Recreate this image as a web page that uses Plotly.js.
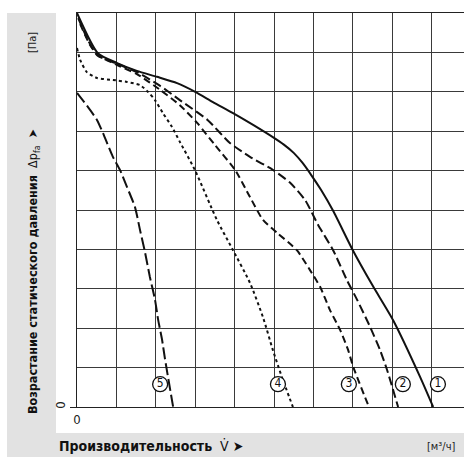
<!DOCTYPE html>
<html>
<head>
<meta charset="utf-8">
<script src="https://cdn.plot.ly/plotly-3.0.1.min.js"></script>
<style>
html,body{margin:0;padding:0;background:#fff;}
#chart{width:464px;height:457px;}
</style>
</head>
<body>
<div id="chart"></div>
<script>
// Curve 1 (solid)
const c1x = [0, 0.53, 1.02, 1.52, 2.03, 2.54, 3.0, 3.45, 3.96, 4.47, 4.97, 5.25, 5.5, 5.72, 5.95, 6.2, 6.5, 7.0, 7.51, 8.02, 8.71, 9.04];
const c1y = [10, 8.98, 8.73, 8.53, 8.38, 8.22, 8.0, 7.74, 7.46, 7.16, 6.85, 6.66, 6.45, 6.2, 5.88, 5.5, 4.98, 3.98, 3.07, 2.21, 0.76, 0];
// Curve 2 (long dash)
const c2x = [0.03, 0.28, 0.51, 1.02, 1.52, 2.11, 2.61, 3.32, 3.88, 4.39, 4.97, 5.41, 5.79, 6.12, 6.50, 6.85, 7.11, 7.44, 7.69, 7.87, 8.15];
const c2y = [9.87, 9.31, 8.93, 8.71, 8.50, 8.15, 7.79, 7.28, 6.70, 6.35, 6.02, 5.69, 5.25, 4.62, 3.98, 3.22, 2.72, 2.03, 1.45, 0.94, 0];
// Curve 3 (dash)
const c3x = [0.08, 0.33, 0.53, 1.02, 1.52, 2.11, 2.61, 3.05, 3.50, 4.01, 4.39, 4.72, 5.08, 5.58, 5.91, 6.17, 6.42, 6.68, 6.88, 7.01, 7.41];
const c3y = [9.72, 9.19, 8.93, 8.68, 8.45, 8.05, 7.66, 7.21, 6.65, 6.02, 5.33, 4.75, 4.42, 3.98, 3.48, 3.05, 2.46, 1.95, 1.45, 1.02, 0];
// Curve 4 (dotted)
const c4x = [0, 0.08, 0.25, 0.51, 0.91, 1.27, 1.60, 1.80, 1.98, 2.18, 2.41, 2.61, 2.99, 3.55, 3.96, 4.39, 4.72, 4.97, 5.20, 5.48];
const c4y = [9.11, 8.81, 8.50, 8.35, 8.30, 8.25, 8.17, 8.0, 7.79, 7.46, 7.11, 6.73, 6.02, 4.75, 3.98, 3.15, 2.28, 1.45, 0.76, 0];
// Curve 5 (long dash, steep)
const c5x = [0, 0.28, 0.51, 0.66, 0.91, 1.09, 1.27, 1.47, 1.60, 1.73, 1.85, 1.98, 2.06, 2.16, 2.23, 2.44];
const c5y = [7.97, 7.61, 7.28, 6.95, 6.35, 6.02, 5.58, 5.08, 4.49, 3.91, 3.30, 2.72, 2.21, 1.70, 1.24, 0];
// Curve labels
const labelText = ['1', '2', '3', '4', '5'];
const labelX = [9.16, 8.27, 6.90, 5.10, 2.11];
const labelY = [0.58, 0.58, 0.58, 0.58, 0.58];

const FONT = '"DejaVu Sans Condensed", "Liberation Sans Narrow", Arial, sans-serif';
const LC = '#111111';

function curve(x, y, dash) {
  return {x: x, y: y, type: 'scatter', mode: 'lines',
    line: {color: LC, width: 2, dash: dash, shape: 'spline', smoothing: 0.6},
    hoverinfo: 'skip', showlegend: false};
}

const traces = [
  curve(c1x, c1y, 'solid'),
  curve(c2x, c2y, '9px,4px'),
  curve(c3x, c3y, '7px,4px'),
  curve(c4x, c4y, '3px,3px'),
  curve(c5x, c5y, '12px,4px'),
  {x: labelX, y: labelY, text: labelText, type: 'scatter', mode: 'markers+text',
   textposition: 'middle center', cliponaxis: false,
   marker: {symbol: 'circle', size: 15, color: '#fff', line: {color: LC, width: 1.3}},
   textfont: {family: FONT, size: 12, color: '#111'}, hoverinfo: 'skip', showlegend: false}
];

const layout = {
  width: 464, height: 457,
  margin: {l: 77, r: 0, t: 13, b: 50, pad: 0},
  paper_bgcolor: '#ffffff', plot_bgcolor: '#ffffff',
  showlegend: false,
  font: {family: FONT, color: '#111'},
  xaxis: {range: [0, 9.822], showline: true, mirror: true, linecolor: '#222', linewidth: 1,
    tickmode: 'array', tickvals: [0], ticktext: ['0'], ticks: '',
    tickfont: {family: FONT, size: 13, color: '#222'},
    showgrid: false, zeroline: false, fixedrange: true,
    minor: {tick0: 0, dtick: 1, showgrid: true, gridcolor: '#3a3a3a', gridwidth: 1, ticks: ''}},
  yaxis: {range: [0, 10], showline: true, linecolor: '#222', linewidth: 1,
    tickmode: 'array', tickvals: [0], ticktext: ['0'], ticks: 'outside', ticklen: 6, tickcolor: '#222',
    tickangle: -90, tickfont: {family: FONT, size: 13, color: '#222'},
    showgrid: false, zeroline: false, fixedrange: true,
    minor: {tick0: 0, dtick: 1, showgrid: true, gridcolor: '#3a3a3a', gridwidth: 1, ticks: ''}},
  shapes: [
    {type: 'rect', xref: 'paper', yref: 'paper', x0: -0.1809, x1: 1.0, y0: -0.1269, y1: 1.0,
     fillcolor: '#e2e2e2', line: {width: 0}, layer: 'below'},
    {type: 'rect', xref: 'paper', yref: 'paper', x0: -0.0543, x1: 1.0, y0: -0.066, y1: 1.04,
     fillcolor: '#ffffff', line: {width: 0}, layer: 'below'}
  ],
  annotations: [
    {xref: 'paper', yref: 'paper', x: -0.1137, y: 0.345, xanchor: 'center', yanchor: 'middle',
     textangle: -90, showarrow: false,
     text: '<b>Возрастание статического давления</b>  Δp<sub>fa</sub>  <b>➤</b>',
     font: {family: FONT, size: 12.5, color: '#111'}},
    {xref: 'paper', yref: 'paper', x: -0.1137, y: 0.9264, xanchor: 'center', yanchor: 'middle',
     textangle: -90, showarrow: false, text: '[Па]',
     font: {family: FONT, size: 11, color: '#222'}},
    {xref: 'paper', yref: 'paper', x: -0.0517, y: -0.099, xanchor: 'left', yanchor: 'middle',
     showarrow: false, text: '<b>Производительность</b>  V̇ <b>➤</b>',
     font: {family: FONT, size: 14, color: '#111'}},
    {xref: 'paper', yref: 'paper', x: 0.899, y: -0.1015, xanchor: 'left', yanchor: 'middle',
     showarrow: false, text: '[м³/ч]',
     font: {family: FONT, size: 11, color: '#222'}}
  ]
};

Plotly.newPlot('chart', traces, layout, {displayModeBar: false, staticPlot: true});
</script>
</body>
</html>
